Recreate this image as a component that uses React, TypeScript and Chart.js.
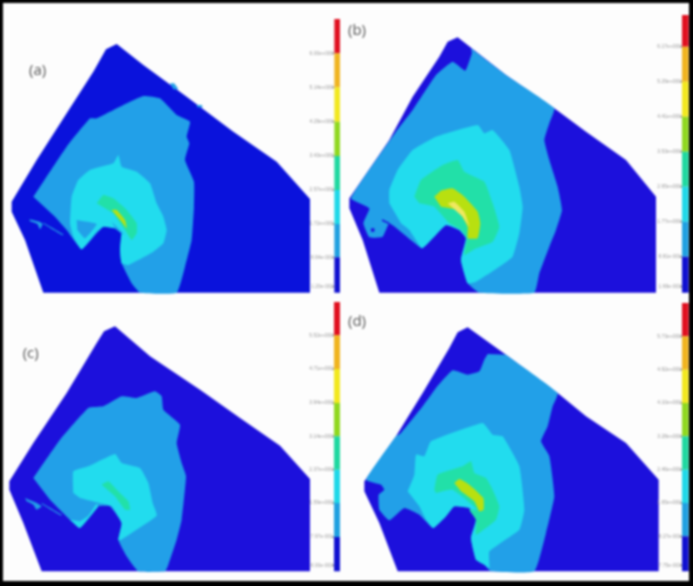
import React, { useEffect, useRef } from "react";
import { Chart, registerables } from "chart.js";

Chart.register(...registerables);

type P = [number, number];

const DARK_A = "#0a12dc";
const DARK = "#1c10dc";
const MID = "#22a0e8";
const CYAN = "#22dcee";
const TEAL = "#22e0a8";
const LIME = "#b8e010";
const PALE = "#f0e860";
const barColors = ["#e01020", "#f0b420", "#f2e820", "#90d820", "#20d8a0", "#20d8e8", "#20a0e0", "#1010d0"];

// Contour regions are in each panel's own map units.
const aOutline: P[] = [[350,132],[318,148],[280,215],[200,340],[110,480],[35,605],[35,635],[75,720],[130,878],[930,878],[930,597],[830,485],[700,395],[560,290],[430,195]];
const aMid: P[] = [[100,590],[130,545],[200,440],[270,355],[290,355],[370,315],[430,288],[480,295],[530,345],[570,365],[560,410],[568,430],[555,480],[582,545],[582,620],[575,720],[555,800],[530,878],[420,878],[395,850],[365,790],[360,750],[365,700],[345,685],[310,680],[290,700],[245,748],[200,690],[165,650]];
const aCyan: P[] = [[210,670],[215,590],[235,540],[270,510],[340,490],[355,465],[365,500],[410,515],[450,550],[470,610],[490,650],[500,690],[490,730],[460,755],[385,795],[365,790],[360,750],[365,700],[378,712],[345,685],[310,680],[290,695],[245,748],[220,710],[212,680]];
const aIsland: P[] = [[230,660],[290,672],[255,715],[232,690]];
const aSliver: P[] = [[335,665],[375,705],[345,683]];
const aTeal: P[] = [[290,610],[310,585],[340,595],[380,630],[410,670],[410,700],[395,720],[375,690],[340,640]];
const aLime: P[] = [[335,630],[350,630],[375,660],[380,685],[365,665]];
const aSpeck1: P[] = [[510,250],[522,250],[535,268],[520,268]];
const aSpeck2: P[] = [[590,315],[605,315],[608,322],[592,322]];
const aSpeck3: P[] = [[88,658],[120,666],[128,672],[120,688],[112,672],[90,664]];
const aSpeck4: P[] = [[130,668],[190,703],[188,706],[130,671]];

const bOutline: P[] = [[335,112],[305,125],[280,170],[200,290],[130,420],[10,595],[10,625],[50,720],[100,878],[930,878],[930,590],[840,480],[720,395],[625,325],[480,225]];
const bMid: P[] = [[375,145],[480,225],[625,325],[610,370],[595,420],[610,480],[635,560],[648,630],[630,690],[610,740],[580,820],[565,878],[400,878],[365,850],[345,780],[360,715],[340,690],[300,675],[260,715],[228,745],[170,700],[130,670],[110,710],[70,712],[52,670],[70,625],[15,595],[125,430],[150,395],[200,330],[270,225],[320,185],[358,212],[378,160]];
const bCyan: P[] = [[130,610],[130,570],[155,510],[200,450],[270,410],[395,375],[415,400],[440,390],[490,450],[520,560],[530,620],[520,700],[500,770],[460,800],[390,845],[365,850],[345,780],[360,715],[340,690],[300,675],[260,715],[228,745],[190,690],[165,670]];
const bTeal: P[] = [[205,590],[225,540],[290,495],[335,480],[355,515],[415,545],[440,610],[460,680],[440,725],[390,745],[355,765],[362,715],[345,690],[310,670],[265,620],[220,610]];
const bLime: P[] = [[265,590],[285,572],[320,565],[355,590],[395,635],[403,670],[395,715],[365,715],[365,680],[335,630],[285,620]];
const bPale: P[] = [[305,610],[325,605],[355,635],[370,680],[350,650]];
const bHole1: P[] = [[75,685],[85,685],[85,695],[75,695]];
const bHole2: P[] = [[108,658],[130,668],[128,672],[108,663]];

const cOutline: P[] = [[345,100],[312,115],[290,150],[200,300],[100,450],[28,565],[28,590],[70,690],[125,835],[930,835],[930,558],[840,458],[720,375],[600,290],[450,190]];
const cMid: P[] = [[100,555],[180,440],[265,345],[310,340],[365,310],[410,315],[465,295],[485,310],[490,350],[540,395],[530,450],[545,510],[558,550],[545,680],[530,740],[505,815],[495,835],[415,835],[380,790],[355,740],[365,690],[330,640],[295,640],[240,705],[210,680],[150,620]];
const cCyan: P[] = [[220,600],[220,535],[265,520],[345,483],[365,510],[420,525],[445,570],[458,630],[470,668],[360,742],[355,740],[365,690],[335,640],[290,628],[240,615]];
const cStripe: P[] = [[210,680],[240,705],[295,640],[290,632],[265,668],[240,685]];
const cTeal: P[] = [[305,575],[325,565],[350,590],[385,625],[390,650],[375,650],[345,610]];
const cSpeck1: P[] = [[75,615],[110,630],[125,640],[110,650],[100,635],[80,625]];
const cSpeck2: P[] = [[125,630],[185,665],[183,668],[125,633]];

const dOutline: P[] = [[365,103],[335,118],[310,165],[230,300],[150,430],[55,565],[55,595],[100,690],[155,835],[938,835],[938,560],[840,450],[720,370],[635,300],[480,185]];
const dMid: P[] = [[480,185],[635,300],[620,340],[605,400],[585,445],[610,490],[625,610],[600,720],[565,835],[435,835],[415,815],[390,800],[375,735],[390,680],[370,645],[325,640],[300,670],[262,705],[220,665],[175,645],[130,682],[100,650],[98,605],[115,590],[105,575],[60,560],[150,430],[165,420],[230,340],[270,285],[320,232],[365,245],[400,235],[415,200],[425,183]];
const dCyan: P[] = [[185,595],[205,545],[210,485],[235,490],[255,445],[410,390],[440,425],[470,430],[520,520],[535,650],[520,710],[430,775],[430,825],[415,815],[390,800],[375,735],[390,680],[370,645],[325,640],[300,670],[262,705],[240,680],[220,640]];
const dTeal: P[] = [[265,590],[275,545],[350,520],[375,505],[385,540],[420,555],[440,590],[460,640],[450,680],[390,725],[390,680],[370,650],[395,650],[320,590],[270,600]];
const dLime: P[] = [[325,570],[340,558],[370,575],[412,615],[413,650],[400,655],[385,625],[345,595]];

// Colour-bar tick labels (top to bottom), their boundaries and label heights.
const aTicks = ["6.00e+000", "5.14e+000", "4.29e+000", "3.43e+000", "2.57e+000", "1.72e+000", "8.64e-001", "1.20e-002"];
const bTicks = ["6.17e+000", "5.29e+000", "4.41e+000", "3.53e+000", "2.65e+000", "1.77e+000", "8.81e-001", "1.69e-003"];
const cTicks = ["5.52e+000", "4.71e+000", "3.94e+000", "3.14e+000", "2.37e+000", "1.59e+000", "7.97e-001", "8.00e-003"];
const dTicks = ["5.73e+000", "4.92e+000", "4.10e+000", "3.28e+000", "2.46e+000", "1.65e+000", "8.27e-001", "7.75e-003"];
const aBar = [57, 160, 262, 365, 468, 570, 672, 772, 878];
const bBar = [45, 140, 245, 350, 455, 560, 665, 770, 878];
const cBar = [27, 127, 228, 330, 430, 530, 630, 732, 835];
const dBar = [30, 130, 230, 330, 430, 530, 630, 730, 835];

type Panel = {
  id: string; label: string; labelAt: P; ox: number; oy: number;
  barX: [number, number]; bar: number[]; ticks: string[]; layers: [P[], string][];
};

const panels: Panel[] = [
  { id: "a", label: "(a)", labelAt: [113, 213], ox: 0, oy: 0, barX: [1003, 1020], bar: aBar, ticks: aTicks,
    layers: [[aOutline, DARK_A], [aSpeck1, MID], [aSpeck2, MID], [aSpeck3, MID], [aSpeck4, MID], [aMid, MID], [aCyan, CYAN], [aIsland, MID], [aSliver, MID], [aTeal, TEAL], [aLime, LIME]] },
  { id: "b", label: "(b)", labelAt: [33, 93], ox: 346, oy: 0, barX: [1008, 1028], bar: bBar, ticks: bTicks,
    layers: [[bOutline, DARK], [bMid, MID], [bHole1, DARK], [bHole2, DARK], [bCyan, CYAN], [bTeal, TEAL], [bLime, LIME], [bPale, PALE]] },
  { id: "c", label: "(c)", labelAt: [92, 183], ox: 0, oy: 293, barX: [1002, 1020], bar: cBar, ticks: cTicks,
    layers: [[cOutline, DARK], [cSpeck1, MID], [cSpeck2, MID], [cMid, MID], [cCyan, CYAN], [cStripe, CYAN], [cTeal, TEAL]] },
  { id: "d", label: "(d)", labelAt: [33, 85], ox: 346, oy: 293, barX: [1008, 1028], bar: dBar, ticks: dTicks,
    layers: [[dOutline, DARK], [dMid, MID], [dCyan, CYAN], [dTeal, TEAL], [dLime, LIME]] },
];

const LEFT = 3, RIGHT = 689, TOP = 3, BOTTOM = 581, ZOOM = 3;

const textPlugin = {
  id: "panelText",
  afterDatasetsDraw(chart: any) {
    const { ctx } = chart;
    ctx.save();
    for (const p of panels) {
      const sx = chart.scales["x" + p.id];
      const sy = chart.scales["y" + p.id];
      ctx.textBaseline = "middle";
      ctx.textAlign = "center";
      ctx.fillStyle = "#555555";
      ctx.font = '15px "Open Sans"';
      ctx.fillText(p.label, sx.getPixelForValue(p.labelAt[0]), sy.getPixelForValue(p.labelAt[1]));
      ctx.textAlign = "right";
      ctx.font = '5px "Liberation Sans"';
      const x = sx.getPixelForValue(p.barX[0]);
      p.ticks.forEach((t, i) => {
        const yv = i === p.ticks.length - 1 ? p.bar[i + 1] - 18 : p.bar[i + 1];
        const y = sy.getPixelForValue(yv);
        ctx.fillStyle = "#9a9a9a";
        ctx.fillText(t, x - 1, y);
        ctx.fillStyle = "#666666";
        ctx.fillRect(x - 2, y - 0.5, 2, 1);
      });
    }
    ctx.restore();
  },
};

export default function App() {
  const ref = useRef<HTMLCanvasElement>(null);
  useEffect(() => {
    if (!ref.current) return;
    const datasets: any[] = [];
    const scales: any = {};
    for (const p of panels) {
      scales["x" + p.id] = { type: "linear", display: false, min: (LEFT - p.ox) * ZOOM, max: (RIGHT - p.ox) * ZOOM };
      scales["y" + p.id] = { type: "linear", display: false, reverse: true, min: (TOP - p.oy) * ZOOM, max: (BOTTOM - p.oy) * ZOOM };
      const add = (pts: P[], color: string, tension: number) =>
        datasets.push({
          data: pts.map(([x, y]) => ({ x, y })),
          xAxisID: "x" + p.id,
          yAxisID: "y" + p.id,
          showLine: true,
          fill: "shape",
          backgroundColor: color,
          borderColor: color,
          borderWidth: 0,
          pointRadius: 0,
          tension,
          order: -datasets.length,
        });
      p.layers.forEach(([pts, color], i) => add(pts, color, i === 0 ? 0 : 0.12));
      barColors.forEach((c, i) => {
        const [l, r] = p.barX;
        add([[l, p.bar[i]], [r, p.bar[i]], [r, p.bar[i + 1]], [l, p.bar[i + 1]]], c, 0);
      });
    }
    const chart = new Chart(ref.current, {
      type: "scatter",
      data: { datasets },
      options: {
        animation: false,
        responsive: false,
        layout: { padding: 0 },
        scales,
        plugins: { legend: { display: false }, tooltip: { enabled: false }, title: { display: false } },
      },
      plugins: [textPlugin],
    } as any);
    return () => chart.destroy();
  }, []);
  return (
    <div style={{ position: "absolute", left: 0, top: 0, width: 693, height: 586, background: "#000", overflow: "hidden" }}>
      <canvas
        ref={ref}
        width={RIGHT - LEFT}
        height={BOTTOM - TOP}
        style={{ position: "absolute", left: LEFT, top: TOP, width: RIGHT - LEFT, height: BOTTOM - TOP, background: "#fdfdfd", filter: "blur(0.8px)" }}
      />
    </div>
  );
}
